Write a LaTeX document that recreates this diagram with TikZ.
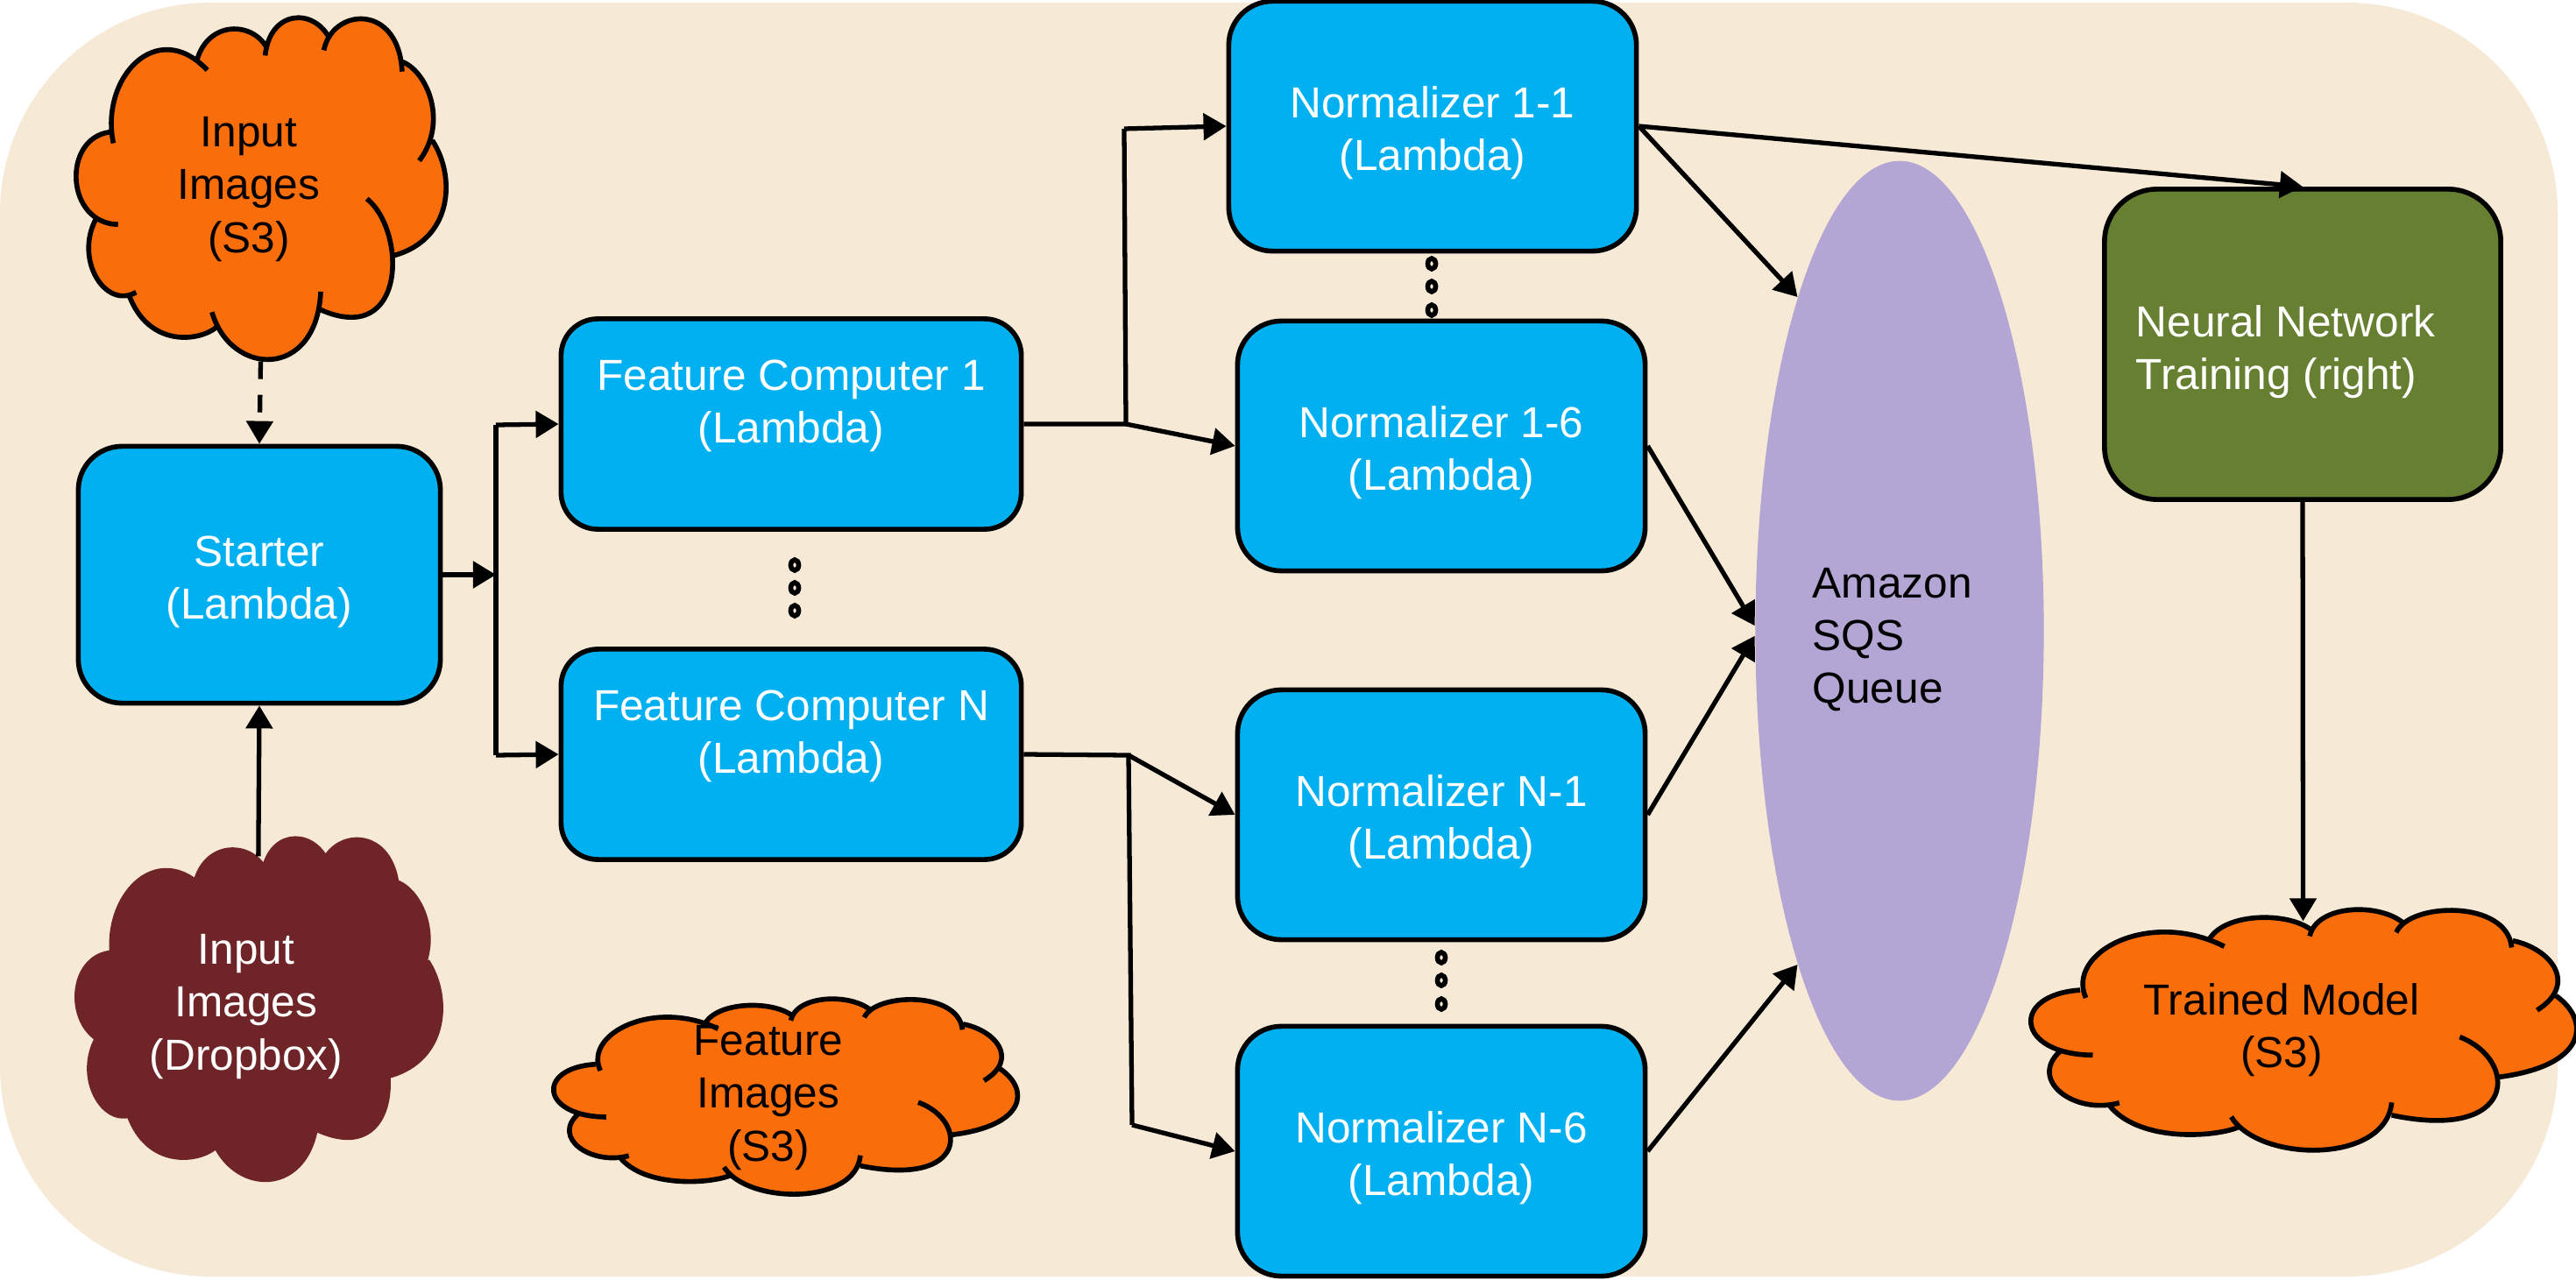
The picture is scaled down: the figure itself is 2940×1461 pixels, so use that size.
\documentclass[tikz,border=0pt]{standalone}
\usepackage{fontspec}
\setmainfont{Liberation Sans}
\usetikzlibrary{arrows.meta}
\usetikzlibrary{shapes}

\definecolor{page_color}{HTML}{F6E9D5}
\definecolor{lambda_color}{HTML}{00B0F0}
\definecolor{s3_color}{HTML}{F96D0A}
\definecolor{dropbox_color}{HTML}{6F2427}
\definecolor{train_color}{HTML}{667F31}
\definecolor{queue_color}{HTML}{B3A5D4}

\newcommand{\toplift}{\rule{0pt}{14.6pt}}

% the lobes of a cloud, #1 joins one lobe to the next
\newcommand{\cloudoutline}[1]{
    (290,490) .. controls (255,270) and (400,55) .. (530,240) #1
    (505,200) .. controls (535,72) and (645,72) .. (683,165) #1
    (678,190) .. controls (690,35) and (800,25) .. (842,130) #1
    (828,172) .. controls (850,25) and (1020,10) .. (1028,245) #1
    (1030,212) .. controls (1095,250) and (1145,420) .. (1072,550) #1
    (1105,480) .. controls (1165,600) and (1160,820) .. (1005,875) #1
    (938,680) .. controls (1040,790) and (1040,1190) .. (820,1060) #1
    (820,998) .. controls (810,1300) and (590,1290) .. (542,1068) #1
    (555,1118) .. controls (510,1170) and (380,1190) .. (330,1010) #1
    (348,1000) .. controls (270,1060) and (190,890) .. (245,750) #1
    (302,768) .. controls (168,765) and (158,475) .. (280,452)
}

% name, xmin, ymin, xmax, ymax, fill, stroke
\newcommand{\cloudnode}[7]{
    \begin{scope}[shift={(#2,#3)},xscale={(#4-#2)/943},yscale={(#5-#3)/1175},shift={(-195,-60)},line width=1.6pt]
        \fill[#6] \cloudoutline{--} -- cycle;
        \draw[#7] \cloudoutline{};
    \end{scope}
    \node [inner sep=0pt, minimum width={(#4-#2)*0.01cm}, minimum height={(#5-#3)*0.01cm}](#1) at ({(#2+#4)/2},{(#3+#5)/2}) {};
}

\begin{document}
\begin{tikzpicture}[x=0.01cm, y=-0.01cm,
        text_style/.style={align=center,inner sep=0pt,font=\fontsize{14.1}{17.1}\selectfont},
        lambda_style/.style={text_style,draw=black,line width=1.6pt,fill=lambda_color,text=white,rounded corners=0.5cm,minimum width=4.65cm,minimum height=2.85cm},
        feature_style/.style={lambda_style,rounded corners=0.42cm,minimum width=5.25cm,minimum height=2.4cm},
        dot_style/.style={ellipse,draw=black,line width=1.6pt,fill=page_color,inner sep=0pt,minimum width=0.09cm,minimum height=0.12cm},
        line_style/.style={draw=black,line width=1.5pt},
        edge_style/.style={line_style,-{Triangle[length=0.26cm,width=0.3cm]}},
        dashed_edge_style/.style={edge_style,dash pattern=on 0.2cm off 0.18cm}]
        \useasboundingbox (0,0) rectangle (2940,1461);

        \fill[page_color,rounded corners=2.4cm] (0,3) rectangle (2919,1457);

        \cloudnode{cloud_input}{87}{20}{508}{412}{s3_color}{black}
        \cloudnode{cloud_dropbox}{88}{957}{502}{1348}{dropbox_color}{dropbox_color}
        \cloudnode{cloud_feature}{632}{1140}{1160}{1364}{s3_color}{black}
        \cloudnode{cloud_model}{2318}{1038}{2939}{1314}{s3_color}{black}

        \node [text_style](text_input) at (284,216) {Input\\Images\\(S3)};
        \node [text_style,text=white](text_dropbox) at (281,1149) {Input\\Images\\(Dropbox)};
        \node [text_style](text_feature) at (877,1253) {Feature\\Images\\(S3)};
        \node [text_style](text_model) at (2604,1176) {Trained Model\\(S3)};

        \node [lambda_style,minimum width=4.13cm,minimum height=2.93cm](starter) at (296,656) {\toplift Starter\\(Lambda)};
        \node [feature_style](fc1) at (903,484) {Feature Computer 1\\(Lambda)\\[-2.2pt]\mbox{}};
        \node [feature_style](fcn) at (903,861) {Feature Computer N\\(Lambda)\\[-2.2pt]\mbox{}};
        \node [lambda_style](norm11) at (1635,144) {\toplift Normalizer 1-1\\(Lambda)};
        \node [lambda_style](norm16) at (1645,509) {\toplift Normalizer 1-6\\(Lambda)};
        \node [lambda_style](normn1) at (1645,930) {\toplift Normalizer N-1\\(Lambda)};
        \node [lambda_style](normn6) at (1645,1314) {\toplift Normalizer N-6\\(Lambda)};
        \node [ellipse,fill=queue_color,inner sep=0pt,minimum width=3.29cm,minimum height=10.72cm](sqs) at (2168,720) {};
        \node [text_style,align=left,anchor=west](text_sqs) at (2068,730) {Amazon\\SQS\\Queue};
        \node [text_style,draw=black,line width=1.6pt,fill=train_color,rounded corners=0.6cm,minimum width=4.52cm,minimum height=3.54cm](training) at (2628,393) {};
        \node [text_style,text=white,align=left,anchor=west](text_training) at (2437,402) {Neural Network\\Training (right)};

        \node [dot_style](dot1) at (907,645) {};
        \node [dot_style](dot2) at (907,671) {};
        \node [dot_style](dot3) at (907,697) {};
        \node [dot_style](dot4) at (1634,301) {};
        \node [dot_style](dot5) at (1634,327) {};
        \node [dot_style](dot6) at (1634,354) {};
        \node [dot_style](dot7) at (1645,1093) {};
        \node [dot_style](dot8) at (1645,1119) {};
        \node [dot_style](dot9) at (1645,1146) {};

        \coordinate (split_starter) at (566,656);
        \coordinate (split_fc1) at (566,485);
        \coordinate (split_fcn) at (566,862);
        \coordinate (split_norm1) at (1285,484);
        \coordinate (split_norm11) at (1283,147);
        \coordinate (split_normn) at (1288,862);
        \coordinate (split_normn6) at (1292,1284);

        \draw [dashed_edge_style] (cloud_input.south) -- (starter.north);
        \draw [edge_style,shorten <=-0.21cm] (cloud_dropbox.north) -- (starter.south);
        \draw [edge_style] (starter.east) -- (split_starter);
        \draw [line_style] (split_fc1) -- (split_fcn);
        \draw [edge_style] (split_fc1) -- (fc1.west);
        \draw [edge_style] (split_fcn) -- (fcn.west);
        \draw [line_style] (fc1.east) -- (split_norm1) -- (split_norm11);
        \draw [edge_style] (split_norm11) -- (norm11.west);
        \draw [edge_style] (split_norm1) -- (norm16.west);
        \draw [line_style] (fcn.east) -- (split_normn) -- (split_normn6);
        \draw [edge_style] (split_normn) -- (normn1.west);
        \draw [edge_style] (split_normn6) -- (normn6.west);
        \draw [edge_style] (norm11.east) -- (training.north);
        \draw [edge_style] (norm11.east) -- (sqs.107);
        \draw [edge_style] (norm16.east) -- (sqs.178);
        \draw [edge_style] (normn1.east) -- (sqs.182);
        \draw [edge_style] (normn6.east) -- (sqs.253);
        \draw [edge_style,shorten >=-0.14cm] (training.south) -- (cloud_model.north);
\end{tikzpicture}
\end{document}
